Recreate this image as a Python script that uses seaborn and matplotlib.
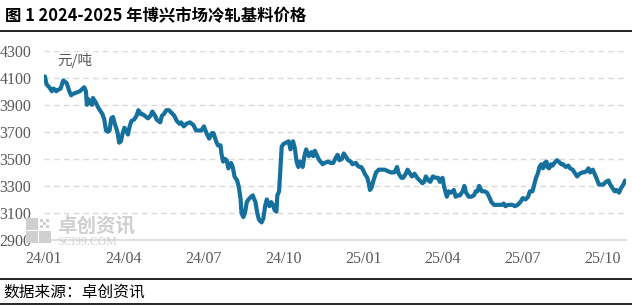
import matplotlib
matplotlib.use("Agg")
import matplotlib.pyplot as plt
import matplotlib.patches as mpatches
from matplotlib.lines import Line2D
import seaborn as sns
import pandas as pd

# ---------------- data ----------------
start_date = "2024-01-01"
day_offsets = [
    1, 3, 6, 9, 11, 14, 16, 19, 22, 24, 26, 29, 31, 33, 37, 41, 46, 48, 49, 51,
    53, 55, 56, 59, 62, 65, 67, 69, 71, 73, 75, 77, 79, 81, 84, 86, 88, 90, 92, 94,
    96, 98, 100, 103, 106, 108, 111, 113, 117, 119, 122, 124, 127, 129,
    133, 135, 137, 140, 143, 146, 149, 152, 155, 157, 160, 163, 167, 171, 174, 178,
    180, 183, 186, 189, 192, 194, 197, 199, 202, 203, 205, 207, 209, 211, 213, 214,
    216, 218, 221, 223, 225, 226, 228, 230, 232, 234, 237, 239, 240, 242, 244, 246,
    249, 251, 253, 255, 256, 258, 260, 262, 264, 266, 267, 269,
    272, 274, 277, 280, 282, 285, 287, 289, 291, 293, 296, 298, 300, 303, 306, 308,
    310, 312, 315, 319, 321, 325, 328, 331, 334, 336, 338, 341, 343, 345, 348, 351,
    353, 357, 359, 361, 363, 365, 367, 370, 372, 373, 375, 377, 380, 383, 386, 390,
    393, 397, 401, 404, 406, 409, 411, 414, 416, 418, 421, 424, 427, 430, 433, 435,
    437, 440, 442, 445, 448, 451,
    453, 456, 458, 461, 463, 466, 469, 471, 474, 476, 479, 481, 483, 486, 489, 492,
    494, 496, 498, 501, 504, 507, 510, 512, 515, 518, 521, 524, 526, 528, 531, 533,
    536, 539, 542, 545, 548, 551, 554, 556, 559, 561, 563, 565, 567, 569, 571, 573,
    575, 576, 578, 580, 582, 584, 587, 589, 592, 594, 597, 600, 602, 605, 608, 610,
    613, 616, 618, 621, 623, 625, 628, 630, 632, 635, 637, 640, 643, 646, 648, 650,
    653, 655, 658, 660, 663, 665,
]
prices = [
    4110, 4050, 4030, 4000, 4020, 4000, 4010, 4020, 4080, 4070, 4060, 4000, 3970, 3980, 3990, 4000, 4030, 4000, 3900, 3940,
    3910, 3900, 3950, 3920, 3880, 3850, 3830, 3790, 3710, 3700, 3710, 3800, 3810, 3760, 3700, 3620, 3630, 3690, 3730, 3710,
    3680, 3740, 3780, 3790, 3820, 3860, 3830, 3830, 3810, 3800, 3820, 3850, 3820, 3790,
    3770, 3820, 3830, 3860, 3860, 3840, 3820, 3780, 3760, 3770, 3740, 3760, 3770, 3750, 3710, 3710,
    3710, 3740, 3690, 3650, 3690, 3690, 3630, 3600, 3600, 3540, 3480, 3500, 3490, 3430, 3460, 3470,
    3440, 3370, 3340, 3290, 3200, 3100, 3070, 3100, 3180, 3200, 3220, 3230, 3210, 3180, 3100, 3050,
    3030, 3060, 3150, 3200, 3180, 3150, 3180, 3160, 3120, 3110, 3230, 3260,
    3590, 3610, 3620, 3630, 3570, 3630, 3580, 3480, 3440, 3480, 3440, 3520, 3570, 3520, 3550, 3520,
    3560, 3530, 3490, 3460, 3470, 3480, 3470, 3470, 3510, 3530, 3490, 3500, 3540, 3520, 3490, 3480,
    3460, 3470, 3450, 3440, 3440, 3420, 3390, 3360, 3310, 3270, 3290, 3340, 3400, 3420, 3420, 3420,
    3410, 3400, 3400, 3440, 3390, 3360, 3360, 3390, 3420, 3400, 3370, 3390, 3360, 3340, 3320, 3330,
    3370, 3340, 3330, 3370, 3360, 3360,
    3330, 3360, 3290, 3220, 3260, 3250, 3270, 3220, 3230, 3230, 3260, 3300, 3250, 3220, 3220, 3230,
    3260, 3260, 3300, 3260, 3260, 3250, 3210, 3180, 3160, 3160, 3160, 3160, 3170, 3150, 3160, 3160,
    3160, 3150, 3160, 3180, 3210, 3200, 3220, 3260, 3260, 3310, 3360, 3390, 3440, 3460, 3430, 3470,
    3480, 3440, 3430, 3460, 3450, 3470, 3490, 3480, 3460, 3460, 3440, 3450, 3430, 3420, 3390, 3370,
    3390, 3400, 3400, 3410, 3430, 3400, 3420, 3390, 3360, 3310, 3310, 3310, 3330, 3340, 3310, 3290,
    3260, 3270, 3250, 3280, 3310, 3340,
]
tick_dates = ["2024-01-01", "2024-04-01", "2024-07-01", "2024-10-01",
              "2025-01-01", "2025-04-01", "2025-07-01", "2025-10-01"]
tick_labels = ["24/01", "24/04", "24/07", "24/10", "25/01", "25/04", "25/07", "25/10"]
y_ticks = [2900, 3100, 3300, 3500, 3700, 3900, 4100, 4300]

title_text = "图 1 2024-2025 年博兴市场冷轧基料价格"
unit_text = "元/吨"
source_text = "数据来源：卓创资讯"

# ---------------- frame ----------------
df = pd.DataFrame({
    "date": pd.Timestamp(start_date) + pd.to_timedelta(day_offsets, unit="D"),
    "price": prices,
})

sns.set_style("white")
plt.rcParams["font.family"] = ["Noto Sans CJK SC", "DejaVu Sans"]

W, H = 632, 308
fig, ax = plt.subplots(figsize=(W / 100, H / 100), dpi=100)
fig.subplots_adjust(left=44 / W, right=626 / W, top=1 - 50.7 / H, bottom=1 - 240 / H)

line_color = "#15709d"
sns.lineplot(data=df, x="date", y="price", ax=ax, color=line_color, linewidth=3.0,
             solid_joinstyle="round", solid_capstyle="round")

ax.set_xlim(pd.Timestamp(start_date), pd.Timestamp("2025-10-28"))
ax.set_ylim(2900, 4300)
ax.set_xlabel("")
ax.set_ylabel("")

ax.set_yticks(y_ticks)
ax.set_yticklabels([str(v) for v in y_ticks])
ax.set_xticks(pd.to_datetime(tick_dates))
ax.set_xticklabels(tick_labels)

for lab in ax.get_xticklabels() + ax.get_yticklabels():
    lab.set_fontfamily(["Liberation Serif", "DejaVu Serif"])
    lab.set_fontsize(11.5)
    lab.set_color("#595959")

ax.tick_params(axis="y", length=0, pad=9)
ax.tick_params(axis="x", length=5, width=1, color="#d9d9d9", direction="out", pad=3)

for s in ["top", "right", "left"]:
    ax.spines[s].set_visible(False)
ax.spines["bottom"].set_color("#d9d9d9")
ax.spines["bottom"].set_linewidth(1.2)

ax.yaxis.grid(True, linestyle=(0, (4, 3)), color="#d9d9d9", linewidth=1)
ax.xaxis.grid(False)
ax.set_axisbelow(True)

# ---------------- texts ----------------
fig.text(5 / W, 1 - 16 / H, title_text, fontsize=11.8, fontweight="bold",
         color="black", va="center", ha="left")
fig.text(57 / W, 1 - 61 / H, unit_text, fontsize=10.5, color="#595959",
         va="center", ha="left")
fig.text(3 / W, 1 - 292 / H, source_text, fontsize=11.3, color="black",
         va="center", ha="left")

for yy in (31, 279, 304):
    fig.add_artist(Line2D([0, 1], [1 - yy / H] * 2, color="black", linewidth=1.2,
                          transform=fig.transFigure))

# watermark
wm = "#cfcfcf"
for (x0, y0, w, h) in [(26, 218, 12, 12), (26, 231, 12, 12), (39, 231, 12, 12)]:
    fig.add_artist(mpatches.Rectangle((x0 / W, 1 - (y0 + h) / H), w / W, h / H,
                                      transform=fig.transFigure, color=wm, lw=0))
for (x0, y0) in [(40, 219), (46, 219), (43, 222), (40, 225), (46, 225)]:
    fig.add_artist(mpatches.Rectangle((x0 / W, 1 - (y0 + 3) / H), 3 / W, 3 / H,
                                      transform=fig.transFigure, color=wm, lw=0))
fig.text(57 / W, 1 - 226 / H, "卓创资讯", fontsize=14, fontweight="bold",
         color=wm, va="center", ha="left")
fig.text(57 / W, 1 - 242 / H, "SCI99.COM", fontsize=8.5,
         family=["Liberation Serif", "DejaVu Serif"], color=wm, va="center", ha="left")

fig.savefig("out.png", dpi=100)
